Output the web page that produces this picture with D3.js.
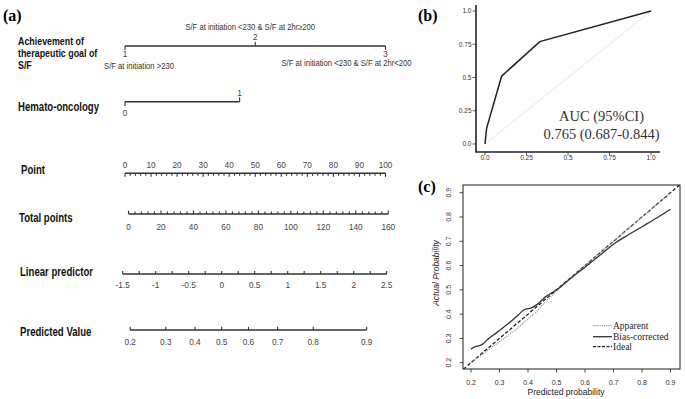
<!DOCTYPE html>
<html><head><meta charset="utf-8">
<script src="https://cdn.jsdelivr.net/npm/d3@7/dist/d3.min.js"></script>
<style>
body{margin:0;background:#fff;}
svg{display:block;background:#fff;}
.cond{font-family:"Liberation Sans",Arial,sans-serif;}
.serif{font-family:"Liberation Serif","Times New Roman",serif;}
.sans{font-family:"Liberation Sans",Arial,sans-serif;}
</style></head><body>
<svg id="chart" width="685" height="399"></svg>
<script>
// ---------------- data ----------------
const goalLevels = ["1", "2", "3"];
const goalPoints = [0, 50, 100];
const goalDescriptions = ["S/F at initiation >230", "S/F at initiation <230 & S/F at 2hr\u2265200", "S/F at initiation <230 & S/F at 2hr<200"];
const hemaLevels = ["0", "1"];
const hemaPoints = [0, 44];
const pointTickLabels = [0, 10, 20, 30, 40, 50, 60, 70, 80, 90, 100];
const totalTickLabels = [0, 20, 40, 60, 80, 100, 120, 140, 160];
const lpTickLabels = [-1.5, -1, -0.5, 0, 0.5, 1, 1.5, 2, 2.5];
const predictedValues = [0.2, 0.3, 0.4, 0.5, 0.6, 0.7, 0.8, 0.9];

const rocFpr = [0, 0.01, 0.10, 0.33, 1];
const rocTpr = [0, 0.12, 0.51, 0.77, 1];
const rocTicks = [0, 0.25, 0.5, 0.75, 1];
const rocTickLabels = ["0.0", "0.25", "0.5", "0.75", "1.0"];
const aucLines = ["AUC (95%CI)", "0.765 (0.687-0.844)"];

const calTicks = [0.2, 0.3, 0.4, 0.5, 0.6, 0.7, 0.8, 0.9];
const biasX = [0.2, 0.215, 0.23, 0.245, 0.26, 0.28, 0.3, 0.33, 0.36, 0.39, 0.41, 0.43, 0.46, 0.5, 0.55, 0.6, 0.65, 0.7, 0.75, 0.8, 0.85, 0.9];
const biasY = [0.256, 0.266, 0.27, 0.28, 0.298, 0.315, 0.333, 0.36, 0.39, 0.42, 0.425, 0.438, 0.47, 0.5, 0.548, 0.593, 0.64, 0.688, 0.725, 0.76, 0.795, 0.832];
const appX = [0.2, 0.25, 0.3, 0.35, 0.4, 0.43, 0.46, 0.48, 0.5, 0.55, 0.6, 0.65, 0.7, 0.75, 0.8, 0.85, 0.9];
const appY = [0.2, 0.243, 0.287, 0.33, 0.38, 0.41, 0.45, 0.472, 0.495, 0.548, 0.6, 0.65, 0.7, 0.75, 0.8, 0.85, 0.9];
const idealX = [0.1, 1.0];
const idealY = [0.1, 1.0];
const legendLabels = ["Apparent", "Bias-corrected", "Ideal"];

// ---------------- setup ----------------
const svg = d3.select("#chart");
const ink = "#333";

// panel labels
svg.append("text").attr("class", "serif").attr("x", 3).attr("y", 21).attr("font-size", 16).attr("font-weight", "bold").text("(a)");
svg.append("text").attr("class", "serif").attr("x", 418).attr("y", 21).attr("font-size", 16).attr("font-weight", "bold").text("(b)");
svg.append("text").attr("class", "serif").attr("x", 418).attr("y", 192).attr("font-size", 16).attr("font-weight", "bold").text("(c)");

// ---------------- (a) nomogram ----------------
const pointScale = d3.scaleLinear().domain([0, 100]).range([125, 385.5]);
const totalScale = d3.scaleLinear().domain([0, 160]).range([128.5, 388.3]);
const lpScale = d3.scaleLinear().domain([-1.5, 2.5]).range([122.7, 386.7]);
const logit = p => Math.log(p / (1 - p));

const nom = svg.append("g");
function ctext(x, y, s, size, opts) {
  opts = opts || {};
  return nom.append("text").attr("class", "cond")
    .attr("font-size", size)
    .attr("font-weight", opts.bold ? "bold" : "normal")
    .attr("fill", opts.fill || "#333")
    .attr("text-anchor", opts.anchor || "start")
    .attr("transform", `translate(${x},${y}) scale(${opts.sx || 1},1)`)
    .text(s);
}
function varLabel(lines, x, y0, dy, size, sx) {
  lines.forEach((l, i) => ctext(x, y0 + i * dy, l, size || 12, {bold: true, fill: "#111", sx: sx || 0.8}));
}
function hline(y, x1, x2) {
  nom.append("line").attr("x1", x1).attr("x2", x2).attr("y1", y).attr("y2", y).attr("stroke", ink).attr("stroke-width", 1.5);
}
function tick(x, y, len) {
  nom.append("line").attr("x1", x).attr("x2", x).attr("y1", y).attr("y2", y + len).attr("stroke", ink).attr("stroke-width", 1.1);
}
function tlabel(x, y, s, anchor) {
  ctext(x, y, s, 8.5, {anchor: anchor || "middle", fill: "#444", sx: 0.97});
}
function dlabel(x, y, s, anchor) {
  ctext(x, y, s, 8.5, {anchor: anchor || "middle", fill: "#333", sx: 0.9});
}

// Achievement of therapeutic goal
varLabel(["Achievement of", "therapeutic goal of", "S/F"], 18, 45.3, 11.7, 10.2, 0.87);
const gy = 46;
hline(gy, pointScale(goalPoints[0]), pointScale(goalPoints[2]));
goalLevels.forEach((lv, i) => {
  const x = pointScale(goalPoints[i]);
  if (i === 1) {
    tick(x, gy, -4);
    tlabel(x, 40, lv);
    dlabel(x - 5, 29.5, goalDescriptions[i]);
  } else {
    tick(x, gy, 4);
    tlabel(x, 56.5, lv);
    if (i === 0) dlabel(x + 14, 69, goalDescriptions[i]);
    else dlabel(x + 26, 66, goalDescriptions[i], "end");
  }
});

// Hemato-oncology
varLabel(["Hemato-oncology"], 18, 110.5, 0);
const hy = 101.7;
hline(hy, pointScale(hemaPoints[0]), pointScale(hemaPoints[1]));
hemaLevels.forEach((lv, i) => {
  const x = pointScale(hemaPoints[i]);
  if (i === 0) { tick(x, hy, 4.5); tlabel(x, 115.5, lv); }
  else { tick(x, hy, -4.5); tlabel(x, 96, lv); }
});

// Point
varLabel(["Point"], 21, 173.5, 0);
const py = 173.3;
hline(py, pointScale(0), pointScale(100));
d3.range(0, 101, 2).forEach(v => tick(pointScale(v), py, pointTickLabels.includes(v) ? 3.5 : 2.5));
pointTickLabels.forEach(v => tlabel(pointScale(v), 167.5, v));

// Total points
varLabel(["Total points"], 19, 221.5, 0);
const ty = 214;
hline(ty, totalScale(0), totalScale(160));
d3.range(0, 161, 4).forEach(v => tick(totalScale(v), ty, totalTickLabels.includes(v) ? -3.5 : -2.5));
totalTickLabels.forEach(v => tlabel(totalScale(v), 229.8, v));

// Linear predictor
varLabel(["Linear predictor"], 20, 275.5, 0);
const ly = 274;
hline(ly, lpScale(-1.5), lpScale(2.5));
d3.range(-1.5, 2.51, 0.25).forEach(v => tick(lpScale(v), ly, -3));
lpTickLabels.forEach(v => tlabel(lpScale(v), 288, v));

// Predicted Value
varLabel(["Predicted Value"], 20, 335.5, 0);
const vy = 330;
hline(vy, lpScale(logit(predictedValues[0])), lpScale(logit(predictedValues[predictedValues.length - 1])));
predictedValues.forEach(p => { tick(lpScale(logit(p)), vy, -3.2); tlabel(lpScale(logit(p)), 344.5, p); });

// ---------------- (b) ROC ----------------
const rx = d3.scaleLinear().domain([0, 1]).range([485, 651]);
const ry = d3.scaleLinear().domain([0, 1]).range([144, 11]);
const roc = svg.append("g");
roc.append("line").attr("x1", 476).attr("x2", 476).attr("y1", 5).attr("y2", 152.5).attr("stroke", "#222").attr("stroke-width", 1.6);
roc.append("line").attr("x1", 475.5).attr("x2", 660).attr("y1", 152).attr("y2", 152).attr("stroke", "#222").attr("stroke-width", 1.6);
rocTicks.forEach((v, i) => {
  roc.append("line").attr("x1", 472.5).attr("x2", 476).attr("y1", ry(v)).attr("y2", ry(v)).attr("stroke", "#333").attr("stroke-width", 0.8);
  roc.append("text").attr("class", "sans").attr("font-size", 6.5).attr("fill", "#333").attr("text-anchor", "end").attr("x", 471.5).attr("y", ry(v) + 2.3).text(rocTickLabels[i]);
  roc.append("line").attr("x1", rx(v)).attr("x2", rx(v)).attr("y1", 152).attr("y2", 155.5).attr("stroke", "#333").attr("stroke-width", 0.8);
  roc.append("text").attr("class", "sans").attr("font-size", 6.5).attr("fill", "#333").attr("text-anchor", "middle").attr("x", rx(v)).attr("y", 160).text(rocTickLabels[i]);
});
roc.append("line").attr("x1", rx(0)).attr("y1", ry(0)).attr("x2", rx(1)).attr("y2", ry(1)).attr("stroke", "#e6e6e6").attr("stroke-width", 1);
roc.append("path").datum(rocFpr.map((f, i) => [f, rocTpr[i]]))
  .attr("d", d3.line().x(d => rx(d[0])).y(d => ry(d[1])))
  .attr("fill", "none").attr("stroke", "#222").attr("stroke-width", 1.5);
aucLines.forEach((s, i) => {
  roc.append("text").attr("class", "serif").attr("font-size", 14.5).attr("fill", "#333").attr("text-anchor", "middle")
    .attr("x", 601.5).attr("y", 120.5 + i * 18).text(s);
});

// ---------------- (c) calibration ----------------
const cx = d3.scaleLinear().domain([0.2, 0.9]).range([471, 670.5]);
const cy = d3.scaleLinear().domain([0.2, 0.9]).range([362.7, 192.7]);
const box = {x0: 463, x1: 680, y0: 185, y1: 369};
const cal = svg.append("g");
svg.append("defs").append("clipPath").attr("id", "calclip").append("rect")
  .attr("x", box.x0).attr("y", box.y0).attr("width", box.x1 - box.x0).attr("height", box.y1 - box.y0);
cal.append("rect").attr("x", box.x0).attr("y", box.y0).attr("width", box.x1 - box.x0).attr("height", box.y1 - box.y0)
  .attr("fill", "none").attr("stroke", "#333").attr("stroke-width", 1.1);
calTicks.forEach(v => {
  cal.append("line").attr("x1", cx(v)).attr("x2", cx(v)).attr("y1", box.y1).attr("y2", box.y1 + 3.5).attr("stroke", "#333").attr("stroke-width", 0.9);
  cal.append("text").attr("class", "sans").attr("font-size", 7).attr("fill", "#333").attr("text-anchor", "middle").attr("x", cx(v)).attr("y", 384.5).text(v);
  cal.append("line").attr("x1", box.x0 - 3.5).attr("x2", box.x0).attr("y1", cy(v)).attr("y2", cy(v)).attr("stroke", "#333").attr("stroke-width", 0.9);
  cal.append("text").attr("class", "sans").attr("font-size", 7).attr("fill", "#333").attr("text-anchor", "middle")
    .attr("transform", `translate(450.5,${cy(v)}) rotate(-90)`).text(v);
});
cal.append("text").attr("class", "sans").attr("font-size", 8.5).attr("fill", "#222").attr("text-anchor", "middle").attr("x", 566).attr("y", 394.5).text("Predicted probability");
cal.append("text").attr("class", "sans").attr("font-size", 8.5).attr("font-style", "italic").attr("fill", "#222").attr("text-anchor", "middle")
  .attr("transform", "translate(439,273) rotate(-90)").text("Actual Probability");

const clipG = cal.append("g").attr("clip-path", "url(#calclip)");
const line = d3.line().x(d => cx(d[0])).y(d => cy(d[1]));
const lineC = d3.line().curve(d3.curveMonotoneX).x(d => cx(d[0])).y(d => cy(d[1]));
clipG.append("path").datum(idealX.map((x, i) => [x, idealY[i]])).attr("d", line)
  .attr("fill", "none").attr("stroke", "#222").attr("stroke-width", 1.3).attr("stroke-dasharray", "3.5,2");
clipG.append("path").datum(appX.map((x, i) => [x, appY[i]])).attr("d", lineC)
  .attr("fill", "none").attr("stroke", "#9a9a9a").attr("stroke-width", 1.2).attr("stroke-dasharray", "1.2,1");
clipG.append("path").datum(biasX.map((x, i) => [x, biasY[i]])).attr("d", lineC)
  .attr("fill", "none").attr("stroke", "#333").attr("stroke-width", 1.3);

// legend
const legY = [325.7, 336.7, 346.7];
const legStyles = [
  {stroke: "#9a9a9a", dash: "1.2,1", w: 1.2},
  {stroke: "#333", dash: null, w: 1.3},
  {stroke: "#222", dash: "3,1.5", w: 1.3}
];
legendLabels.forEach((s, i) => {
  const l = cal.append("line").attr("x1", 593).attr("x2", 612).attr("y1", legY[i]).attr("y2", legY[i])
    .attr("stroke", legStyles[i].stroke).attr("stroke-width", legStyles[i].w);
  if (legStyles[i].dash) l.attr("stroke-dasharray", legStyles[i].dash);
  cal.append("text").attr("class", "serif").attr("font-size", 9.5).attr("fill", "#222").attr("x", 613).attr("y", legY[i] + 3.2).text(s);
});
</script>
</body></html>
